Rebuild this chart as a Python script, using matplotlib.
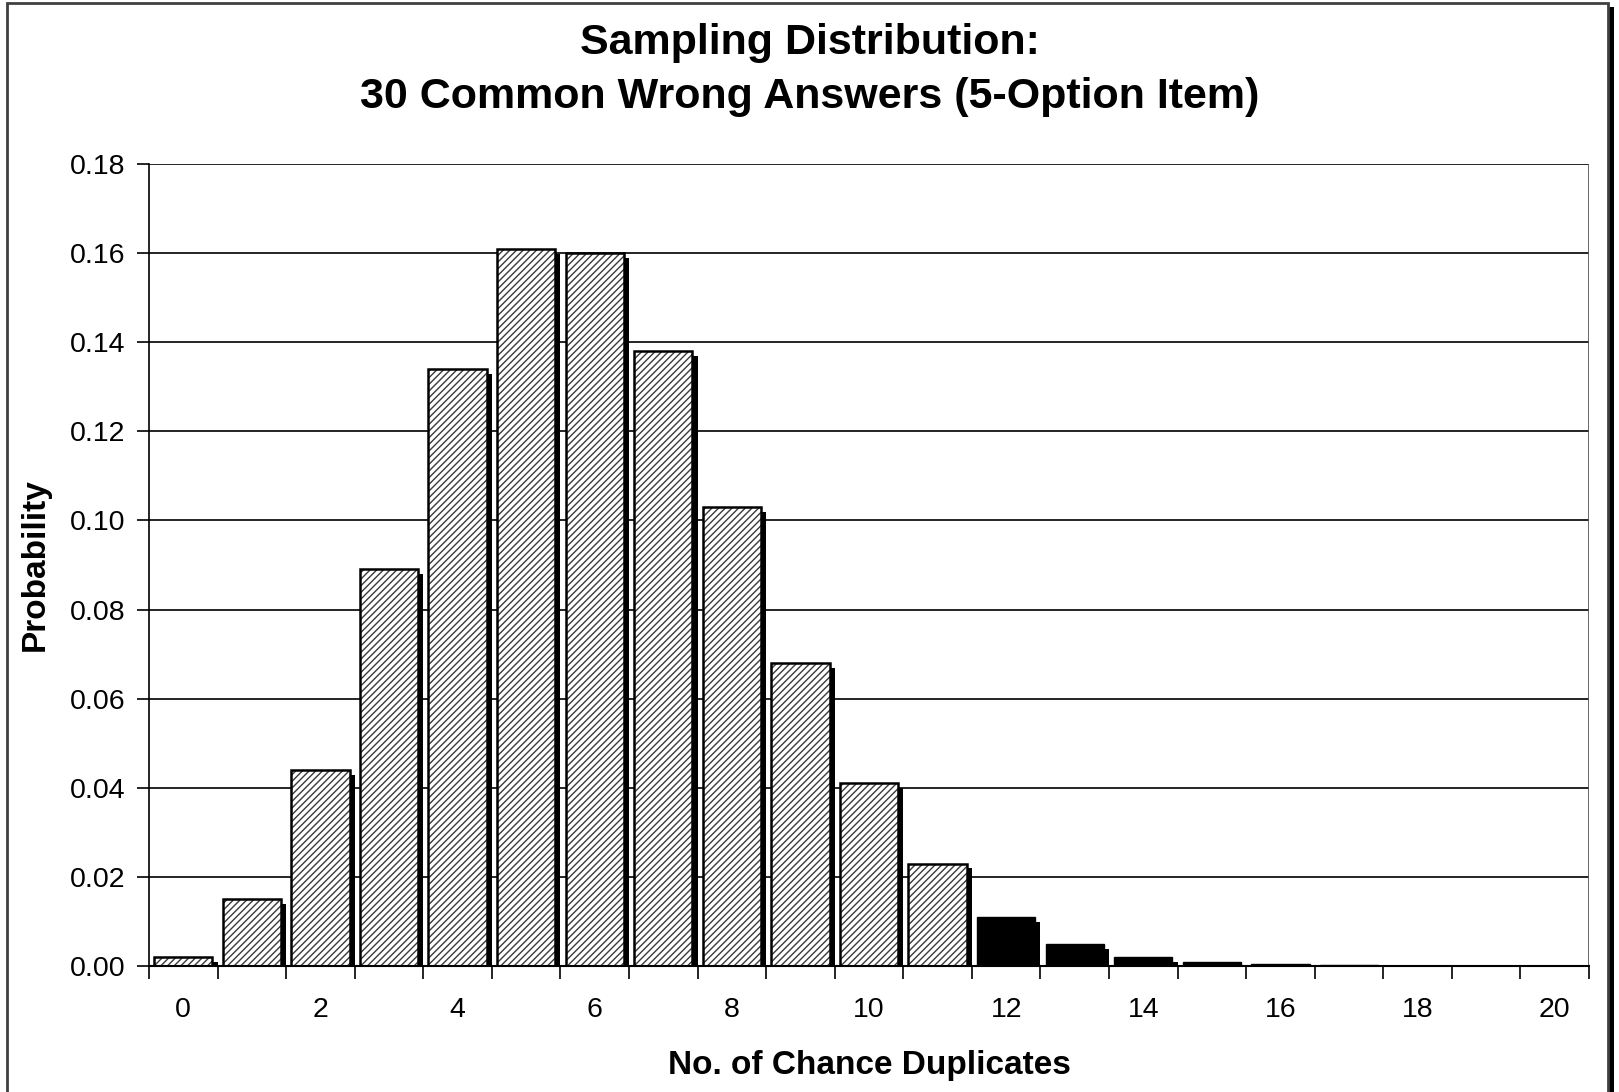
import numpy as np
import matplotlib
matplotlib.use('Agg')
import matplotlib.pyplot as plt
from matplotlib.patches import Rectangle

plt.rcParams['font.family'] = ['Liberation Sans', 'DejaVu Sans']

# Probability of each number of chance duplicates
duplicates = np.arange(0, 21)
probability = [0.002, 0.015, 0.044, 0.089, 0.134, 0.161, 0.160, 0.138, 0.103,
               0.068, 0.041, 0.023, 0.011, 0.005, 0.002, 0.001, 0.0004,
               0.0002, 0.0001, 0.00003, 0.00001]
cutoff = 12  # counts from here on are drawn solid black
tick_labels = [str(v) if v % 2 == 0 else '' for v in duplicates]

fig = plt.figure(figsize=(16.19, 10.92), dpi=100)
ax = fig.add_axes([149 / 1619, 1 - 966 / 1092, (1589 - 149) / 1619, (966 - 164) / 1092])

# outer chart frame with a drop shadow on the right
fig.patches.append(Rectangle((1608 / 1619, 0), 6 / 1619, 1 - 7 / 1092,
                             transform=fig.transFigure, facecolor='black',
                             edgecolor='none', zorder=0))
fig.patches.append(Rectangle((7 / 1619, -0.05), 1601 / 1619, 1.05 - 3 / 1092,
                             transform=fig.transFigure, facecolor='none',
                             edgecolor='#404040', linewidth=2, zorder=1))

width = 0.85
dx, dy = 0.075, 0.0011
probs = np.array(probability)
hatched = duplicates < cutoff

# shadows behind every bar
ax.bar(duplicates + dx, np.clip(probs - dy, 0, None), width=width, color='black',
       linewidth=0, zorder=2)
# hatched bars
ax.bar(duplicates[hatched], probs[hatched], width=width, color='white',
       edgecolor='#3a3a3a', hatch='/////', linewidth=0, zorder=3)
ax.bar(duplicates[hatched], probs[hatched], width=width, color='none',
       edgecolor='black', linewidth=1.8, zorder=4)
# tail bars
ax.bar(duplicates[~hatched], probs[~hatched], width=width, color='black',
       edgecolor='black', linewidth=1, zorder=3)

ax.set_xlim(-0.5, 20.5)
ax.set_ylim(0, 0.18)
ax.set_yticks(np.arange(0, 0.181, 0.02))
ax.set_yticklabels([f'{v:.2f}' for v in np.arange(0, 0.181, 0.02)])
ax.set_xticks(duplicates)
ax.set_xticklabels(tick_labels)
ax.set_xticks(np.arange(-0.5, 21, 1), minor=True)
ax.tick_params(axis='x', which='major', length=0, pad=22, labelsize=20.5)
ax.tick_params(axis='x', which='minor', length=9, width=1.2, direction='out')
ax.tick_params(axis='y', length=9, width=1.2, direction='out', pad=8, labelsize=20.5)

ax.grid(axis='y', color='black', linewidth=1.2, zorder=1)
ax.set_axisbelow(True)
for side in ['top', 'right']:
    ax.spines[side].set_visible(False)
ax.spines['left'].set_linewidth(1.2)
ax.spines['bottom'].set_linewidth(1.5)
ax.spines['bottom'].set_zorder(5)
# right edge of the plot area
ax.axvline(20.5, color='#505050', linewidth=1.2, zorder=1)

ax.set_xlabel('No. of Chance Duplicates', fontsize=24, fontweight='bold', labelpad=20)
ax.set_ylabel('Probability', fontsize=24, fontweight='bold', labelpad=14)
fig.text(0.5, 1 - 70 / 1092,
         'Sampling Distribution:\n30 Common Wrong Answers (5-Option Item)',
         ha='center', va='center', fontsize=31, fontweight='bold', linespacing=1.42)

fig.savefig('out.png', dpi=100)
